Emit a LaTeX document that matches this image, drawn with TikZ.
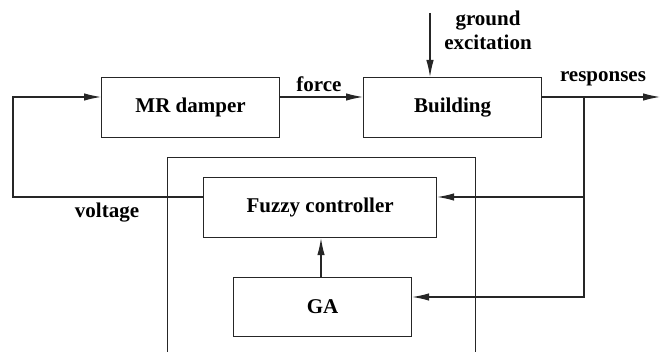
\documentclass[tikz,border=0pt]{standalone}
\usepackage{fontspec}
\setmainfont{Liberation Serif}
\usetikzlibrary{arrows.meta}
\begin{document}
\begin{tikzpicture}[x=1pt,y=-1pt,
  line width=1.2pt, draw=black!85,
  blk/.style={draw, rectangle, anchor=north west, inner sep=0pt},
  txt/.style={font=\fontsize{21}{24}\selectfont\bfseries, inner sep=0pt, align=center},
  arr/.style={-{Latex[length=17pt,width=7.5pt]}}]
\clip (0,0) rectangle (660,352);
\useasboundingbox (0,0) rectangle (660,352);
% blocks
\node[blk, minimum width=178pt, minimum height=60pt] (mr) at (101,77) {};
\node[txt] at (mr.center) {MR damper};
\node[blk, minimum width=178pt, minimum height=60pt] (bld) at (363,77) {};
\node[txt] at (bld.center) {Building};
\node[blk, minimum width=308pt, minimum height=210pt] (ctl) at (167,157) {};
\node[blk, minimum width=233pt, minimum height=60pt] (fz) at (203,177) {};
\node[txt] at (fz.center) {Fuzzy controller};
\node[blk, minimum width=178pt, minimum height=59pt] (ga) at (233,277) {};
\node[txt] at (ga.center) {GA};
% junction points
\coordinate (gtop) at (430,13);
\coordinate (out) at (660,97);
\coordinate (br) at (584,97);
\coordinate (vl) at (13,197);
% connectors
\draw[arr] (mr.east |- 0,97) -- (bld.west |- 0,97);
\draw[arr] (gtop) -- (gtop |- bld.north);
\draw[arr] (bld.east |- 0,97) -- (out);
\draw[arr] (br) -- (br |- 0,197) -- (fz.east |- 0,197);
\draw[arr] (br |- 0,197) -- (br |- 0,297) -- (ga.east |- 0,297);
\draw[arr] (ga.north -| 321,0) -- (fz.south -| 321,0);
\draw[arr] (fz.west |- 0,197) -- (vl) -- (vl |- 0,97) -- (mr.west |- 0,97);
% labels
\node[txt] (lf) at (319,84) {force};
\node[txt] (lg) at (488,30) {ground\\excitation};
\node[txt] (lr) at (603,79) {responses};
\node[txt] (lv) at (107,213) {voltage};
\end{tikzpicture}
\end{document}
